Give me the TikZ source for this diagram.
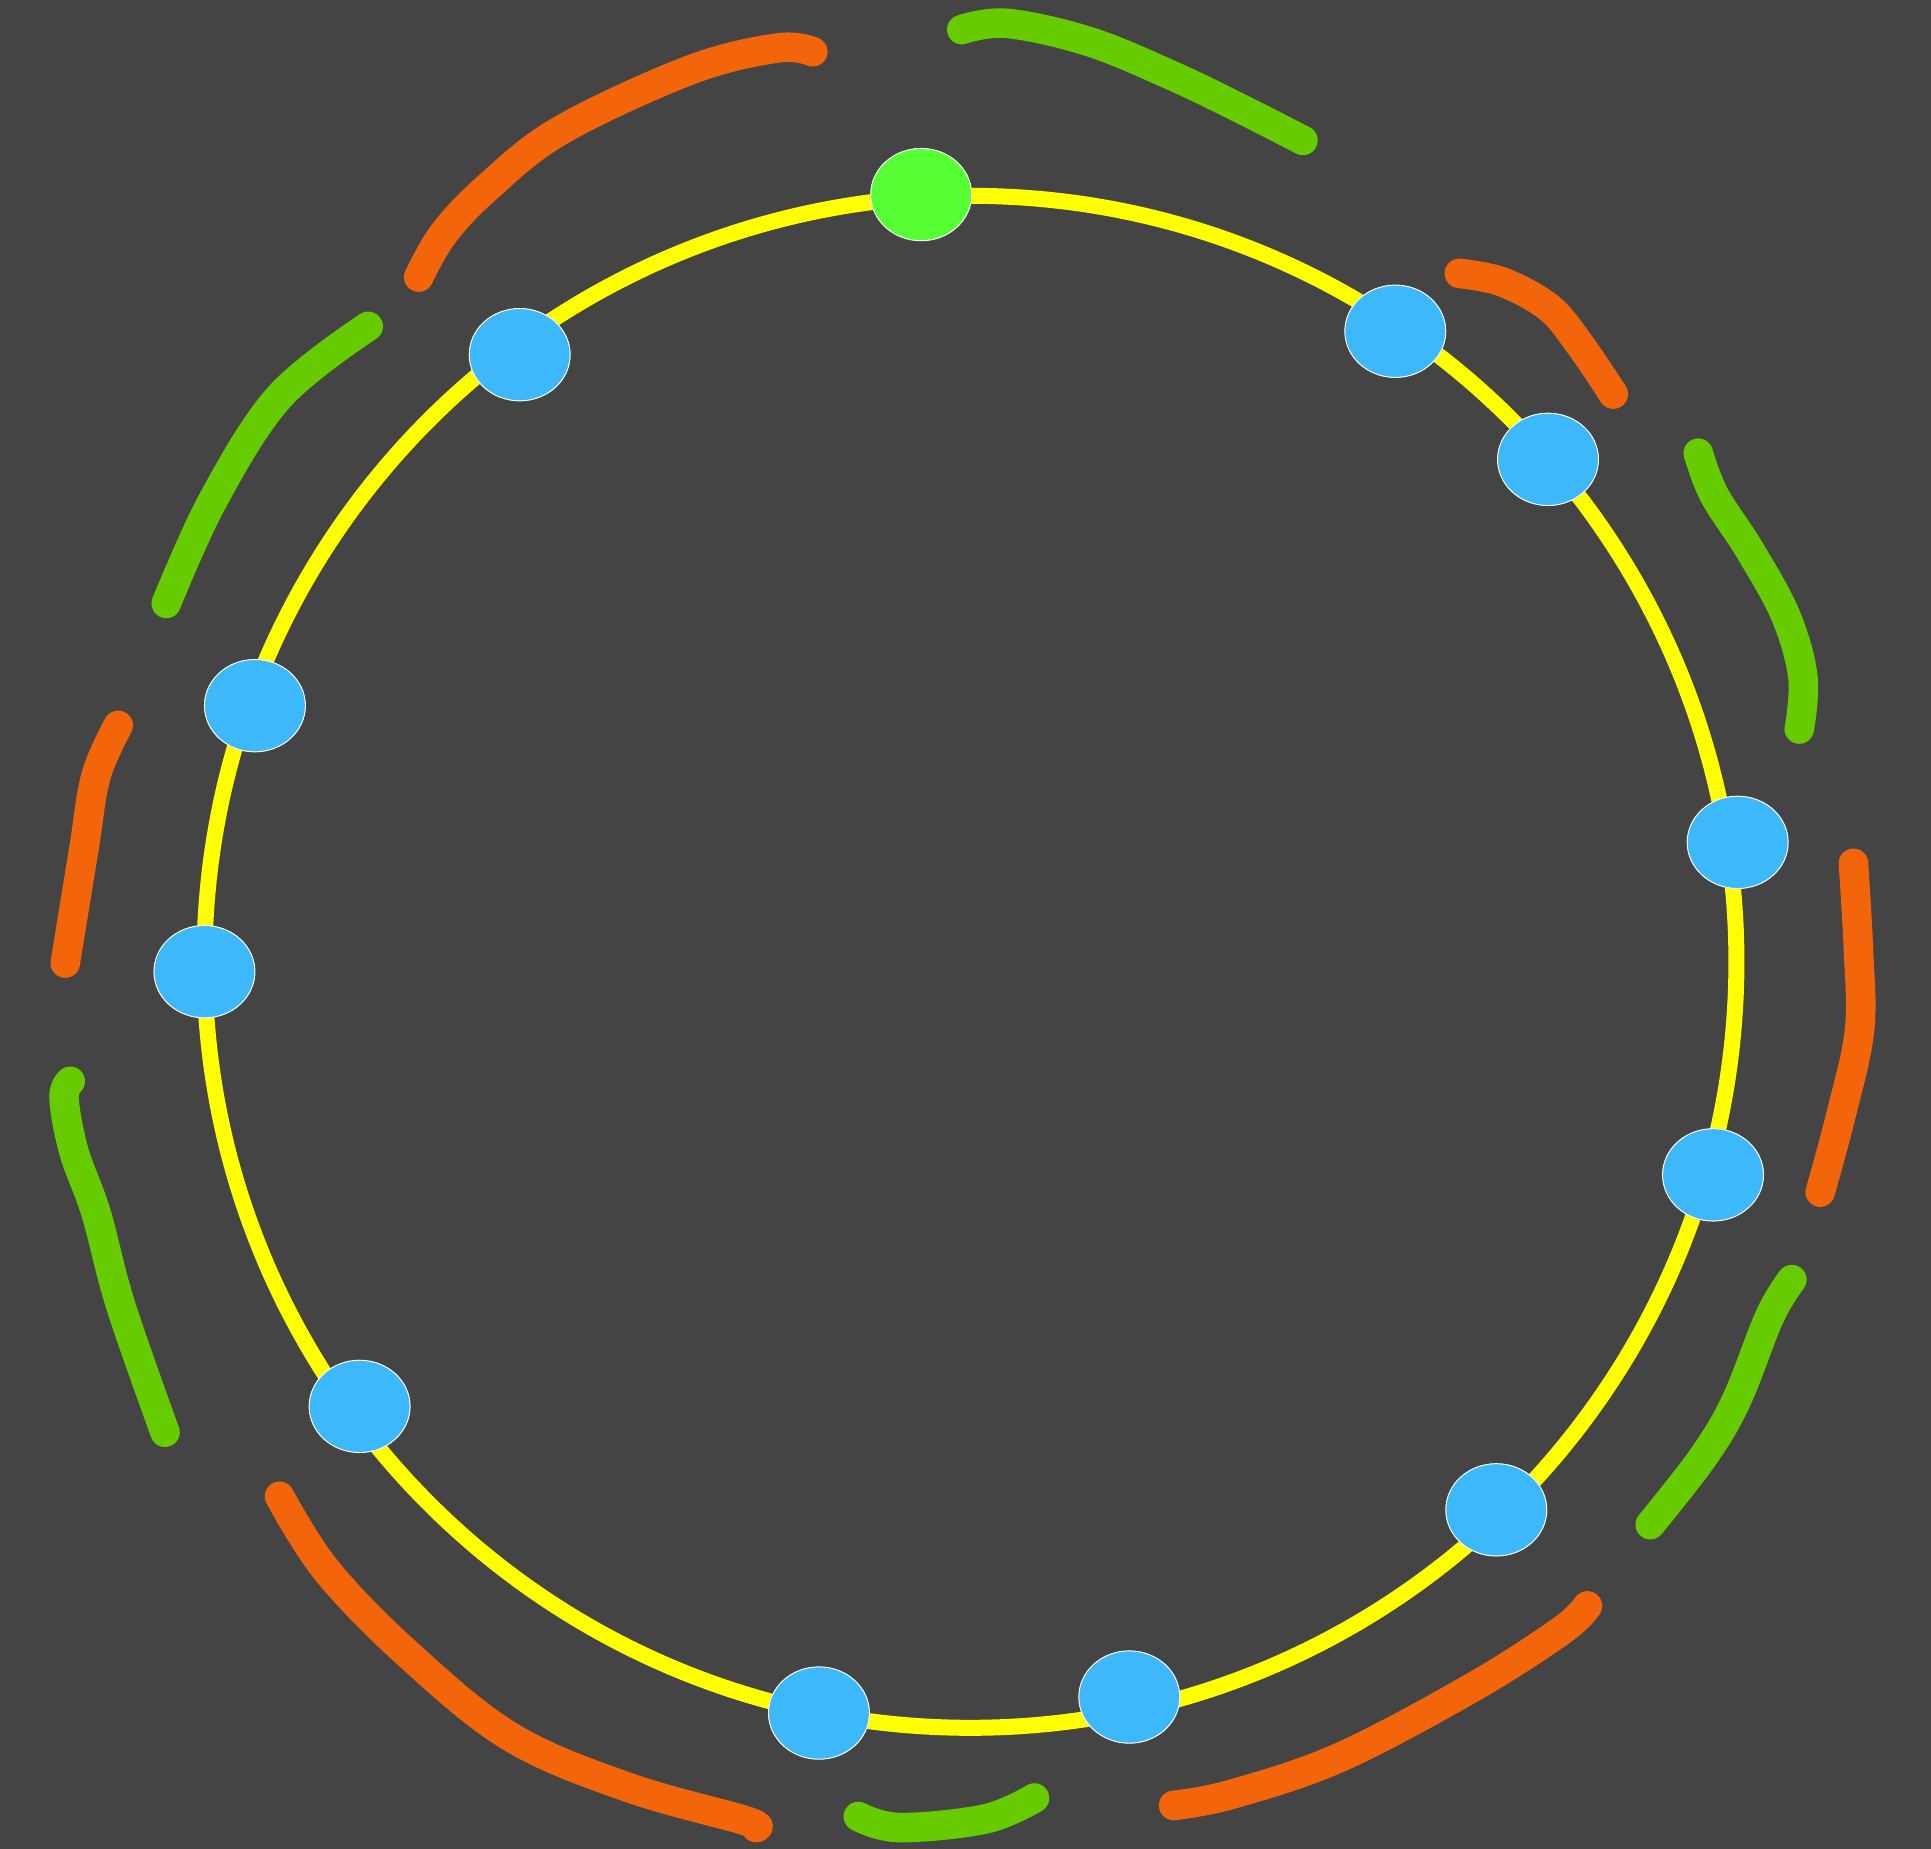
\documentclass[tikz,border=0pt]{standalone}
\usetikzlibrary{shapes.geometric}
\definecolor{bg}{HTML}{444444}
\definecolor{ring}{HTML}{FFFF00}
\definecolor{nodeblue}{HTML}{3DB8FB}
\definecolor{nodegreen}{HTML}{55FF33}
\definecolor{penorange}{HTML}{F2650B}
\definecolor{pengreen}{HTML}{66CC00}
\tikzset{
  vert/.style={ellipse, draw=white, line width=0.8pt, fill=nodeblue, minimum width=82pt, minimum height=75pt, inner sep=0pt},
  startvert/.style={vert, fill=nodegreen},
  ringline/.style={draw=ring, line width=13pt},
  scribble/.style={line width=24pt, line cap=round, line join=round},
  orng/.style={scribble, draw=penorange},
  grn/.style={scribble, draw=pengreen},
}
\begin{document}
\begin{tikzpicture}[x=1pt, y=-1pt]
\fill[bg] (0,0) rectangle (1568,1501);
\useasboundingbox (0,0) rectangle (1568,1501);
% ring
\coordinate (c) at (788,781);
\draw[ringline] (c) circle[radius=622];
% vertices
\node[startvert] (n0) at (748,158) {};
\node[vert] (n1) at (1133,269) {};
\node[vert] (n2) at (1257,373) {};
\node[vert] (n3) at (1411,684) {};
\node[vert] (n4) at (1391,954) {};
\node[vert] (n5) at (1215,1226) {};
\node[vert] (n6) at (917,1378) {};
\node[vert] (n7) at (665,1391) {};
\node[vert] (n8) at (292,1142) {};
\node[vert] (n9) at (166,789) {};
\node[vert] (n10) at (207,573) {};
\node[vert] (n11) at (422,288) {};
% hand-drawn strokes
\draw[orng] plot[smooth, tension=0.6] coordinates {(340,225) (360,190) (395,153) (455,106) (560,57) (631,39) (660,42)};
\draw[grn] plot[smooth, tension=0.6] coordinates {(781,24) (818,19) (885,34) (953,62) (1007,88) (1058,114)};
\draw[orng] plot[smooth, tension=0.6] coordinates {(1185,222) (1220,229) (1258,250) (1283,280) (1310,320)};
\draw[grn] plot[smooth, tension=0.6] coordinates {(1379,368) (1392,402) (1421,447) (1450,500) (1464,550) (1461,592)};
\draw[orng] plot[smooth, tension=0.6] coordinates {(1505,701) (1509,770) (1510,836) (1495,905) (1478,968)};
\draw[grn] plot[smooth, tension=0.6] coordinates {(1455,1039) (1437,1069) (1410,1137) (1383,1183) (1340,1238)};
\draw[orng] plot[smooth, tension=0.6] coordinates {(1289,1304) (1268,1324) (1196,1370) (1088,1427) (1000,1457) (953,1466)};
\draw[grn] plot[smooth, tension=0.6] coordinates {(697,1475) (730,1484) (800,1477) (840,1460)};
\draw[orng] plot[smooth, tension=0.6] coordinates {(227,1215) (265,1275) (330,1342) (414,1410) (509,1451) (604,1478) (614,1484)};
\draw[grn] plot[smooth, tension=0.6] coordinates {(57,878) (52,892) (60,935) (78,985) (98,1060) (134,1163)};
\draw[orng] plot[smooth, tension=0.6] coordinates {(96,589) (78,630) (68,690) (53,782)};
\draw[grn] plot[smooth, tension=0.6] coordinates {(299,265) (227,322) (173,406) (135,490)};
\end{tikzpicture}
\end{document}
